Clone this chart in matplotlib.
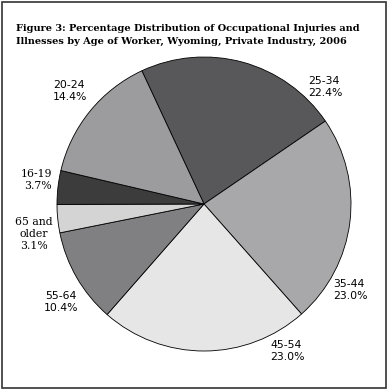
import matplotlib.pyplot as plt
from matplotlib.patches import Rectangle

# 数据 (按顺时针顺序, 从 25-34 开始)
age_groups = ['25-34', '35-44', '45-54', '55-64', '65 and\nolder', '16-19', '20-24']
percents = [22.4, 23.0, 23.0, 10.4, 3.1, 3.7, 14.4]
colors = ['#58585a', '#a8a8aa', '#e6e6e6', '#808082', '#d4d4d4', '#3c3c3c', '#9c9c9e']

# 标签位置 (像素), 对齐方式, 字体
label_px = [(308, 87, 'left', 'DejaVu Sans'), (333, 290, 'left', 'DejaVu Sans'),
            (270, 351, 'left', 'DejaVu Sans'), (61, 302, 'center', 'DejaVu Sans'),
            (34, 234, 'center', 'DejaVu Serif'), (52, 180, 'right', 'DejaVu Serif'),
            (53, 91, 'left', 'DejaVu Sans')]

W, H = 387, 389
CX, CY, R = 204, 204, 147

fig = plt.figure(figsize=(W / 100, H / 100), dpi=100)
ax = fig.add_axes([0, 0, 1, 1])

ax.pie(percents, colors=colors, startangle=115, counterclock=False,
       wedgeprops=dict(edgecolor='black', linewidth=0.6))
ax.set_xlim(-CX / R, (W - CX) / R)
ax.set_ylim(-(H - CY) / R, CY / R)
ax.set_aspect('equal')
ax.axis('off')

for grp, pct, (px, py, ha, fam) in zip(age_groups, percents, label_px):
    ax.text((px - CX) / R, (CY - py) / R, f"{grp}\n{pct:.1f}%", ha=ha, va='center',
            multialignment=ha, fontsize=7.8, family=fam, linespacing=1.3)

fig.text(16 / W, 1 - 24 / H,
         "Figure 3: Percentage Distribution of Occupational Injuries and\n"
         "Illnesses by Age of Worker, Wyoming, Private Industry, 2006",
         ha='left', va='top', fontsize=7.0, fontweight='bold', family='DejaVu Serif',
         linespacing=1.55)

fig.patches.append(Rectangle((1.5 / W, 1.5 / H), 1 - 3 / W, 1 - 3 / H, transform=fig.transFigure,
                             fill=False, edgecolor='#333333', linewidth=1.2))

fig.savefig('out.png', dpi=100)
